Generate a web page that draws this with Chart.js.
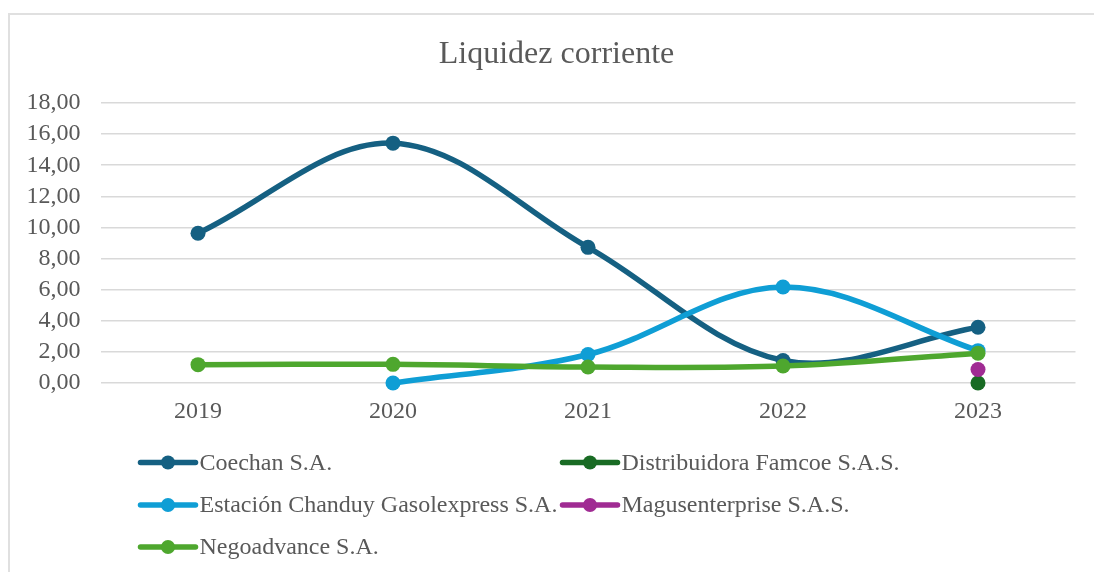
<!DOCTYPE html>
<html>
<head>
<meta charset="utf-8">
<script src="https://cdn.jsdelivr.net/npm/chart.js@4/dist/chart.umd.min.js"></script>
<style>
    html, body { margin: 0; padding: 0; background: #fff; overflow: hidden; }
    body { width: 1094px; height: 572px; position: relative; }
    #marco { position: absolute; left: 8px; top: 13px; width: 1200px; height: 700px; border: 2px solid #e0e0e0; box-sizing: border-box; }
    #contenedor { position: absolute; left: 0; top: 0; width: 1113px; height: 572px; }
</style>
</head>
<body>
<div id="marco"></div>
<div id="contenedor"><canvas id="grafico"></canvas></div>
<script>
// --- DATOS ---
const titulo = 'Liquidez corriente';
const anios = ['2019', '2020', '2021', '2022', '2023'];
const empresas = [
    'Coechan S.A.',
    'Distribuidora Famcoe S.A.S.',
    'Estación Chanduy Gasolexpress S.A.',
    'Magusenterprise S.A.S.',
    'Negoadvance S.A.'
];
const coechan = [9.63, 15.42, 8.72, 1.45, 3.58];
const famcoe = [null, null, null, null, 0];
const chanduy = [null, 0, 1.83, 6.17, 2.08];
const magus = [null, null, null, null, 0.87];
const negoadvance = [1.18, 1.2, 1.03, 1.09, 1.92];
const colores = ['#156082', '#196B24', '#0F9ED5', '#A02B93', '#4EA72E'];

const GRIS = '#595959';
const FUENTE = "'Liberation Serif', 'Times New Roman', serif";

const series = [coechan, famcoe, chanduy, magus, negoadvance];

// titulo centrado sobre todo el marco (no sobre el area del grafico)
const tituloExcel = {
    id: 'tituloExcel',
    afterDraw(chart) {
        const ctx = chart.ctx;
        ctx.save();
        ctx.fillStyle = GRIS;
        ctx.font = '32px ' + FUENTE;
        ctx.textAlign = 'center';
        ctx.textBaseline = 'alphabetic';
        ctx.fillText(titulo, 556.5, 63);
        ctx.restore();
    }
};

// leyenda al estilo Excel: dos columnas, linea con marcador
const leyendaExcel = {
    id: 'leyendaExcel',
    afterDraw(chart) {
        const ctx = chart.ctx;
        const columnas = [140.5, 562.5];
        const filas = [462.5, 505, 547];
        ctx.save();
        chart.data.datasets.forEach((ds, i) => {
            const x = columnas[i % 2];
            const y = filas[Math.floor(i / 2)];
            ctx.strokeStyle = ds.borderColor;
            ctx.lineWidth = 5.5;
            ctx.lineCap = 'round';
            ctx.beginPath();
            ctx.moveTo(x, y);
            ctx.lineTo(x + 55, y);
            ctx.stroke();
            ctx.fillStyle = ds.borderColor;
            ctx.beginPath();
            ctx.arc(x + 27.5, y, 7, 0, Math.PI * 2);
            ctx.fill();
            ctx.fillStyle = GRIS;
            ctx.font = '24px ' + FUENTE;
            ctx.textBaseline = 'middle';
            ctx.textAlign = 'left';
            ctx.fillText(ds.label, x + 59, y + 1);
        });
        ctx.restore();
    }
};

const ctx = document.getElementById('grafico').getContext('2d');
new Chart(ctx, {
    type: 'line',
    data: {
        labels: anios,
        datasets: empresas.map((nombre, i) => ({
            label: nombre,
            data: series[i],
            borderColor: colores[i],
            backgroundColor: colores[i],
            pointBackgroundColor: colores[i],
            pointBorderColor: colores[i],
            borderWidth: 5.5,
            pointRadius: 7.5,
            pointBorderWidth: 0,
            tension: 0.35,
            spanGaps: false,
            clip: false,
            order: empresas.length - i
        }))
    },
    options: {
        responsive: true,
        maintainAspectRatio: false,
        animation: false,
        layout: { padding: { left: 0, right: 37.5, top: 103, bottom: 150 } },
        plugins: {
            legend: { display: false },
            tooltip: { enabled: false },
            title: { display: false }
        },
        scales: {
            x: {
                offset: true,
                grid: { display: false, drawTicks: false },
                border: { display: false },
                ticks: {
                    color: GRIS,
                    font: { family: FUENTE, size: 24 },
                    padding: 14,
                    maxRotation: 0,
                    autoSkip: false
                },
                afterFit: s => { s.height = 39; }
            },
            y: {
                min: 0,
                max: 18,
                grid: { color: '#d9d9d9', lineWidth: 1.5, drawTicks: false },
                border: { display: false },
                ticks: {
                    stepSize: 2,
                    autoSkip: false,
                    color: GRIS,
                    font: { family: FUENTE, size: 24 },
                    padding: 20,
                    callback: v => v.toFixed(2).replace('.', ',')
                },
                afterFit: s => { s.width = 100.5; }
            }
        }
    },
    plugins: [tituloExcel, leyendaExcel]
});
</script>
</body>
</html>
